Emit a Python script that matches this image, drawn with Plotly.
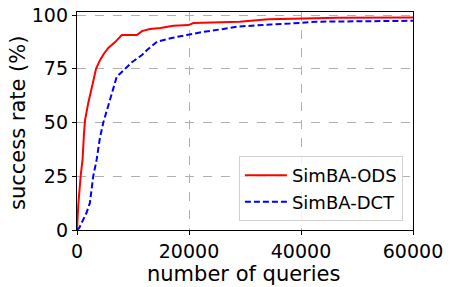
import plotly.graph_objects as go

ods_queries = [0, 240, 650, 1000, 1250, 1430, 2000, 2300, 2800, 3400, 4100, 4800, 5550, 6800, 7400, 8000,
               10700, 11600, 13000, 14900, 17200, 19900, 20800, 29000, 34200, 46600, 60000]
ods_rate = [0, 12, 25, 33, 45, 51, 59, 62, 68, 75, 79, 82, 84.6, 87.4, 89, 90.7,
            90.7, 92.5, 93.5, 94, 95, 95.3, 96.3, 96.9, 98, 98.7, 98.8]

dct_queries = [0, 400, 1070, 1700, 2300, 2900, 3500, 4100, 4700, 5900, 6200, 7100, 8600, 9800, 11600,
               12500, 14300, 16700, 19600, 22600, 25600, 28600, 34600, 38000, 42600, 52500, 60000]
dct_rate = [0, 1, 4.6, 8, 12.6, 25, 32.6, 43, 50, 60.5, 63.7, 71.3, 75, 78, 81.4,
            83.7, 87.6, 89.2, 90.7, 92.2, 93.3, 94.6, 95.6, 96, 96.9, 97.3, 97.3]

x_ticks = [0, 20000, 40000, 60000]
y_ticks = [0, 25, 50, 75, 100]

FONT = "DejaVu Sans"

fig = go.Figure()
fig.add_trace(go.Scatter(x=ods_queries, y=ods_rate, mode="lines", name="SimBA-ODS",
                         line=dict(color="#ff0000", width=2)))
fig.add_trace(go.Scatter(x=dct_queries, y=dct_rate, mode="lines", name="SimBA-DCT",
                         line=dict(color="#0000ff", width=2, dash="6px,3px")))

axis_common = dict(showline=True, linecolor="black", linewidth=1.3, mirror=True,
                   ticks="outside", ticklen=4, tickcolor="black", tickwidth=1.2,
                   showgrid=True, gridcolor="#b0b0b0", griddash="dash", gridwidth=0.8,
                   zeroline=False, automargin=False, ticklabeloverflow="allow",
                   tickfont=dict(family=FONT, size=19, color="black"))

fig.update_layout(
    width=450, height=287,
    margin=dict(l=77, r=37, t=12, b=57),
    paper_bgcolor="white", plot_bgcolor="white",
    font=dict(family=FONT, color="black"),
    xaxis=dict(range=[0, 60000], tickvals=x_ticks, ticktext=[str(v) for v in x_ticks],
               **axis_common),
    yaxis=dict(range=[0, 101.4], tickvals=y_ticks, ticktext=[str(v) for v in y_ticks],
               **axis_common),
    legend=dict(x=0.97, y=0.041, xanchor="right", yanchor="bottom", itemwidth=42,
                bgcolor="rgba(255,255,255,0.8)", bordercolor="#d0d0d0", borderwidth=1,
                font=dict(family=FONT, size=18, color="black"), tracegroupgap=0),
    showlegend=True,
    annotations=[
        dict(text="number of queries", xref="paper", yref="paper", x=0.497, y=-0.2,
             xanchor="center", yanchor="middle", showarrow=False,
             font=dict(family=FONT, size=21, color="black")),
        dict(text="success rate (%)", xref="paper", yref="paper", x=-0.177, y=0.493,
             xanchor="center", yanchor="middle", showarrow=False, textangle=-90,
             font=dict(family=FONT, size=21, color="black")),
    ],
)

fig.write_html("out.html", config={"displayModeBar": False},
               post_script="document.body.style.margin='0';")
